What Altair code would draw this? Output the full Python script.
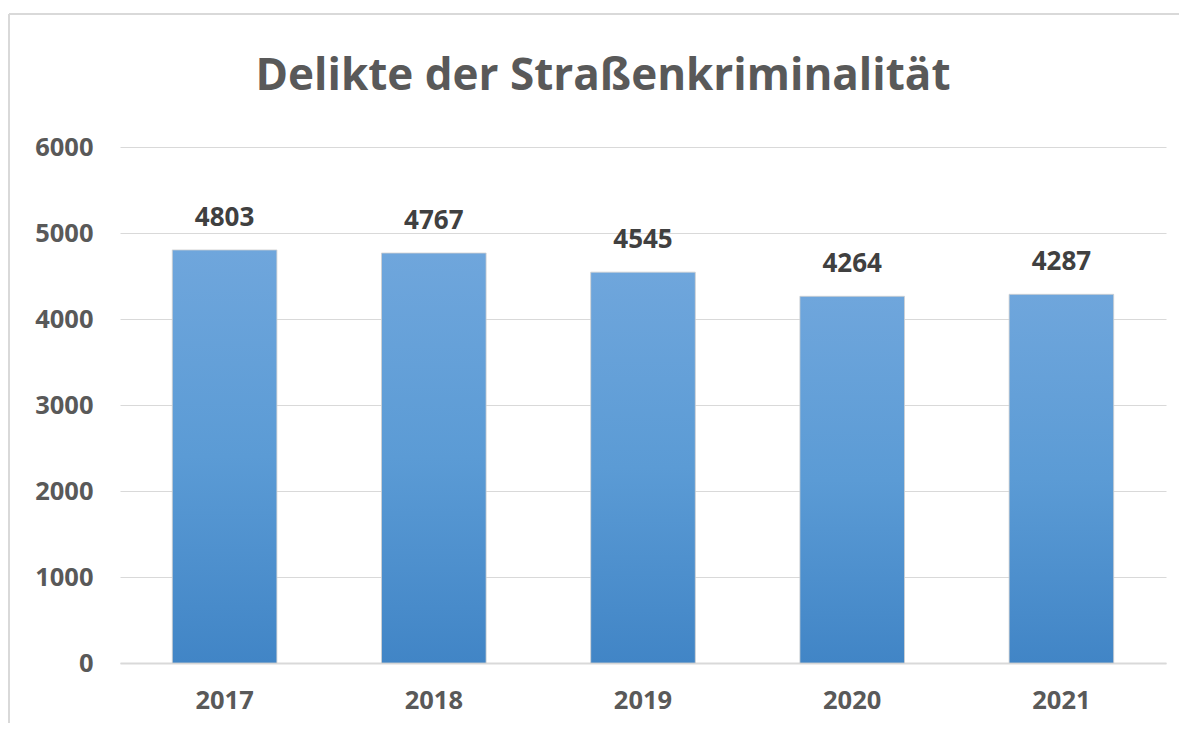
import altair as alt
import pandas as pd

years = ["2017", "2018", "2019", "2020", "2021"]
values = [4803, 4767, 4545, 4264, 4287]
y_ticks = [0, 1000, 2000, 3000, 4000, 5000, 6000]
title_text = ["Delikte der Straßenkriminalität"]

df = pd.DataFrame({"Jahr": years, "Delikte": values})
tdf = pd.DataFrame({"t": title_text})
one = pd.DataFrame({"a": [0]})

FONT = "Open Sans"
W, H = 1046, 516

x = alt.X("Jahr:N", sort=years, title=None,
          scale=alt.Scale(paddingInner=0.5, paddingOuter=0.25),
          axis=alt.Axis(labelAngle=0, labelFont=FONT, labelFontSize=25.5, labelFontWeight="bold",
                        labelColor="#595959", labelPadding=25, ticks=False,
                        domainColor="#d9d9d9", domainWidth=2, grid=False))
y = alt.Y("Delikte:Q", title=None,
          scale=alt.Scale(domain=[0, 6000], nice=False),
          axis=alt.Axis(values=y_ticks, format="d", labelFont=FONT, labelFontSize=25.5,
                        labelFontWeight="bold", labelColor="#595959", labelPadding=27,
                        ticks=False, domain=False, gridColor="#d9d9d9", gridWidth=1))

grad = alt.Gradient(gradient="linear", x1=0, x2=0, y1=0, y2=1,
                    stops=[alt.GradientStop(color="#6fa6dc", offset=0),
                           alt.GradientStop(color="#5b9bd5", offset=0.5),
                           alt.GradientStop(color="#4185c6", offset=1)])

bars = alt.Chart(df).mark_bar(fill=grad, stroke="#d0d0d0", strokeWidth=0.8).encode(x=x, y=y)

labels = alt.Chart(df).mark_text(dy=-32, font=FONT, fontSize=26, fontWeight="bold",
                                 color="#404040", baseline="middle").encode(
    x=alt.X("Jahr:N", sort=years), y="Delikte:Q", text="Delikte:Q")

title = alt.Chart(tdf).mark_text(font=FONT, fontSize=44, fontWeight="bold", color="#595959",
                                 baseline="middle", align="center").encode(
    x=alt.value(483), y=alt.value(-70), text="t:N")

border_left = alt.Chart(one).mark_rule(color="#d9d9d9", strokeWidth=2).encode(
    x=alt.value(-111), y=alt.value(-133), y2=alt.value(600))
border_top = alt.Chart(one).mark_rule(color="#d9d9d9", strokeWidth=2).encode(
    x=alt.value(-111), x2=alt.value(1070), y=alt.value(-133))

chart = alt.layer(border_left, border_top, bars, labels, title).properties(
    width=W, height=H,
    autosize=alt.AutoSizeParams(type="none"),
    padding={"left": 112, "top": 139, "right": 13, "bottom": 60},
    background="white",
).configure_view(stroke=None)

chart.save("out.html", embed_options={"renderer": "svg", "actions": False})
